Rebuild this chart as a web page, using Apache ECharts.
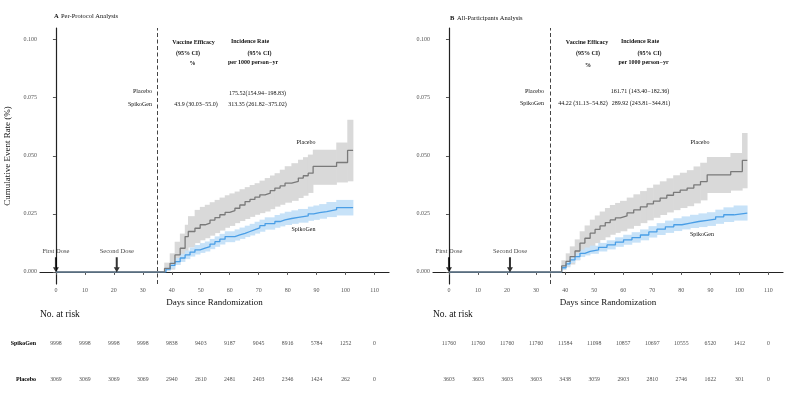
<!DOCTYPE html>
<html>
<head>
<meta charset="utf-8">
<script src="https://cdn.jsdelivr.net/npm/echarts@6/dist/echarts.min.js"></script>
<style>
html,body{margin:0;padding:0;background:#fff;}
#chart{width:787px;height:408px;}
</style>
</head>
<body>
<div id="chart"></div>
<script>
// ---------- Data ----------
const xTicks = [0,10,20,30,40,50,60,70,80,90,100,110];
const yTicks = [0,0.025,0.05,0.075,0.1];

// Panel A (Per-Protocol)
const aPlaceboDays = [0,36,37.5,39.4,41.1,42.9,44.6,45.7,48,49.8,51.5,53.2,54.9,56.6,58.4,60,61.8,63.5,65.3,67,68.7,70.4,72.2,74,75.6,77.4,79.1,81.4,83.7,85.4,87.1,88.8,96.9,100.7,102.6];
const aPlaceboRate = [0,0,0.0015,0.0037,0.0073,0.0102,0.0152,0.0174,0.0188,0.0203,0.021,0.0223,0.0234,0.0246,0.0256,0.0264,0.0274,0.0288,0.0303,0.0312,0.0322,0.0332,0.0339,0.0350,0.0361,0.0370,0.0382,0.0390,0.0404,0.0414,0.0425,0.0454,0.0471,0.0523,0.0523];
const aPlaceboLo   = [0,0,0.0003,0.001,0.003,0.0055,0.008,0.0105,0.0124,0.0136,0.0145,0.0156,0.0167,0.0178,0.019,0.0198,0.021,0.0219,0.0228,0.0237,0.0246,0.0253,0.026,0.027,0.0281,0.0289,0.0298,0.0306,0.0318,0.0328,0.034,0.0375,0.0385,0.039,0.039];
const aPlaceboHi   = [0,0,0.004,0.008,0.013,0.0165,0.0203,0.024,0.0267,0.028,0.0289,0.0300,0.031,0.032,0.033,0.0338,0.0346,0.0356,0.0365,0.0374,0.0382,0.0393,0.0404,0.0415,0.0425,0.044,0.0455,0.0468,0.0483,0.0494,0.0505,0.0526,0.0557,0.0655,0.0655];

const aSpikoDays = [0,36,38,39.5,41.1,42.9,44.6,46.3,48,49.8,51.5,53.2,54.9,56.6,58.4,61.8,63.5,65.3,67,68.7,70.4,72.2,75.6,77.4,79.1,81.4,83.7,87.1,89,91,93.5,96.9,102.6];
const aSpikoRate = [0,0,0.0012,0.0028,0.0044,0.006,0.0073,0.0085,0.0095,0.0102,0.0109,0.012,0.013,0.0141,0.0152,0.0159,0.0166,0.0174,0.0182,0.019,0.0199,0.0208,0.0217,0.0224,0.023,0.0235,0.0241,0.025,0.0255,0.026,0.0268,0.0277,0.0277];
const aSpikoLo   = [0,0,0.0005,0.0015,0.003,0.0043,0.0055,0.0066,0.0075,0.0082,0.0088,0.0098,0.0108,0.0118,0.0128,0.0135,0.0142,0.015,0.0157,0.0165,0.0173,0.0182,0.019,0.0196,0.0202,0.0207,0.0212,0.022,0.0224,0.0229,0.0236,0.0243,0.0243];
const aSpikoHi   = [0,0,0.002,0.0042,0.006,0.0078,0.0092,0.0105,0.0116,0.0124,0.0131,0.0142,0.0153,0.0164,0.0175,0.0183,0.0191,0.0199,0.0207,0.0216,0.0225,0.0235,0.0245,0.0252,0.0259,0.0265,0.0271,0.0281,0.0286,0.0292,0.0301,0.031,0.031];

// Panel B (All-Participants)
const bPlaceboDays = [0,36.5,38.8,40.3,41.7,43.4,45.1,46.8,48.6,50.3,52,53.8,55.5,57.3,59,61.3,63.6,65.9,68.2,70.4,72.7,75,77.3,79.6,82,84.3,86.6,88.9,97,101,102.7];
const bPlaceboRate = [0,0,0.0026,0.0045,0.0066,0.009,0.0124,0.0145,0.0167,0.0183,0.0198,0.0212,0.0224,0.0233,0.0241,0.0254,0.0267,0.028,0.0293,0.0305,0.0318,0.033,0.0342,0.0352,0.0361,0.0375,0.0389,0.0418,0.0432,0.048,0.048];
const bPlaceboLo   = [0,0,0.0008,0.002,0.0032,0.005,0.0075,0.0093,0.011,0.0124,0.0137,0.0149,0.016,0.0168,0.0175,0.0186,0.0198,0.021,0.0222,0.0233,0.0245,0.0256,0.0266,0.0275,0.0283,0.0295,0.0308,0.034,0.035,0.036,0.036];
const bPlaceboHi   = [0,0,0.005,0.008,0.011,0.014,0.0175,0.02,0.0225,0.0243,0.026,0.0275,0.0288,0.0297,0.0306,0.032,0.0334,0.0348,0.0362,0.0376,0.039,0.0403,0.0416,0.0427,0.0438,0.0454,0.047,0.0495,0.0512,0.0598,0.0598];

const bSpikoDays = [0,36.5,38.8,40.3,41.7,43.4,45.1,46.8,48.6,51.5,54.4,57.3,60.1,63,65.9,68.8,71.6,74.5,77.4,80.2,83.1,86,88.9,91.8,94.6,98.1,102.7];
const bSpikoRate = [0,0,0.0018,0.0035,0.0052,0.0066,0.008,0.0088,0.0095,0.0106,0.0116,0.0128,0.0138,0.0148,0.0159,0.0172,0.0184,0.0194,0.0203,0.021,0.0217,0.0222,0.0227,0.0237,0.0246,0.0253,0.0253];
const bSpikoLo   = [0,0,0.001,0.0024,0.0039,0.0051,0.0064,0.0071,0.0078,0.0088,0.0097,0.0108,0.0117,0.0126,0.0136,0.0148,0.0159,0.0168,0.0176,0.0183,0.0189,0.0193,0.0198,0.0207,0.0215,0.0221,0.0221];
const bSpikoHi   = [0,0,0.0028,0.0047,0.0066,0.0081,0.0096,0.0105,0.0113,0.0125,0.0136,0.0149,0.016,0.0171,0.0183,0.0197,0.021,0.0221,0.0231,0.0239,0.0246,0.0252,0.0257,0.0268,0.0278,0.0286,0.0286];

const doseDays = [0,21];
const doseNames = ['First Dose','Second Dose'];
const secondDoseCut = 35;

const riskDays = [0,10,20,30,40,50,60,70,80,90,100,110];
const riskRows = ['SpikoGen','Placebo'];
const aRiskSpiko = [9998,9998,9998,9998,9838,9403,9187,9045,8916,5784,1252,0];
const aRiskPlacebo = [3069,3069,3069,3069,2940,2610,2481,2403,2346,1424,262,0];
const bRiskSpiko = [11760,11760,11760,11760,11584,11098,10857,10697,10555,6520,1412,0];
const bRiskPlacebo = [3603,3603,3603,3603,3438,3059,2903,2810,2746,1622,301,0];

// ---------- Styles ----------
const FF = "'Liberation Serif','Times New Roman',serif";
const GRAY_LINE = '#7a7a7a', GRAY_BAND = '#d9d9d9';
const BLUE_LINE = '#4a9ee6', BLUE_BAND = '#c7e2f8';

const chart = echarts.init(document.getElementById('chart'), null, {renderer:'canvas'});

function pairs(xs, ys){ return xs.map((x,i)=>[x, ys[i]]); }

function mainX(idx){
  return {
    type:'value', gridIndex:idx, min:-5.5, max:115,
    name:'Days since Randomization', nameLocation:'middle', nameGap:11,
    nameTextStyle:{fontFamily:FF, fontSize:9, color:'#111'},
    axisLine:{show:true, lineStyle:{color:'#222', width:1.2}},
    axisTick:{show:true, length:3, lineStyle:{color:'#555'}, customValues:xTicks},
    axisLabel:{fontFamily:FF, fontSize:6, color:'#555', margin:3, customValues:xTicks},
    splitLine:{show:false}
  };
}
function mainY(idx, withName){
  return {
    type:'value', gridIndex:idx, min:-0.0052, max:0.105,
    name: withName ? 'Cumulative Event Rate (%)' : '', nameLocation:'middle', nameGap:28,
    nameTextStyle:{fontFamily:FF, fontSize:9, color:'#111'},
    axisLine:{show:true, lineStyle:{color:'#222', width:1.2}},
    axisTick:{show:true, length:3, lineStyle:{color:'#555'}, customValues:yTicks},
    axisLabel:{fontFamily:FF, fontSize:6, color:'#555', margin:3, customValues:yTicks, formatter:v=>v.toFixed(3)},
    splitLine:{show:false}
  };
}
function riskX(idx){
  return {type:'value', gridIndex:idx, min:-5.5, max:115, show:false};
}
function riskY(idx, showLabels){
  return {type:'category', gridIndex:idx, data:riskRows, inverse:true,
    axisLine:{show:false}, axisTick:{show:false}, splitLine:{show:false},
    axisLabel:{show:showLabels, fontFamily:FF, fontSize:6, fontWeight:'bold', color:'#000', margin:4}};
}

// Step-shaped confidence band: each item = [startDay, endDay, lo, hi]
function bandSeries(ax, days, lo, hi, color){
  const data = [];
  for (let i = 0; i < days.length - 1; i++) {
    if (hi[i] > lo[i]) data.push([days[i], days[i+1], lo[i], hi[i]]);
  }
  return {
    type:'custom', xAxisIndex:ax, yAxisIndex:ax, silent:true, z:1,
    data:data,
    encode:{x:[0,1], y:[2,3]},
    renderItem:function(params, api){
      const p1 = api.coord([api.value(0), api.value(3)]);
      const p2 = api.coord([api.value(1), api.value(2)]);
      return {type:'rect', shape:{x:p1[0]-0.3, y:p1[1], width:p2[0]-p1[0]+0.6, height:p2[1]-p1[1]},
        style:{fill:color}};
    }
  };
}
function lineSeries(ax, days, rate, color, z, extra){
  return Object.assign({type:'line', xAxisIndex:ax, yAxisIndex:ax, step:'end', symbol:'none', silent:true,
    lineStyle:{color:color, width:1.3}, data:pairs(days, rate), z:z}, extra||{});
}
function cutLine(){
  return {markLine:{silent:true, symbol:['none','none'], label:{show:false},
    lineStyle:{type:[4,2.5], color:'#444', width:1}, data:[{xAxis:secondDoseCut}]}};
}
const arrowPath = 'path://M2,0 L4,0 L4,10 L6,10 L3,15 L0,10 L2,10 Z';
function doseSeries(ax){
  return {type:'scatter', xAxisIndex:ax, yAxisIndex:ax, symbol:arrowPath, symbolSize:[6,15], silent:true,
    itemStyle:{color:'#000'}, z:8,
    data: doseDays.map((d,i)=>({value:[d, 0.0031], name:doseNames[i]})),
    label:{show:true, position:'top', distance:2, formatter:p=>p.name, fontFamily:FF, fontSize:6.5, color:'#111'}};
}
function riskSeries(ax, spiko, placebo){
  const data = [];
  riskDays.forEach((d,i)=>{ data.push([d, riskRows[0], spiko[i]]); data.push([d, riskRows[1], placebo[i]]); });
  return {type:'scatter', xAxisIndex:ax, yAxisIndex:ax, symbolSize:0, silent:true, data:data,
    label:{show:true, position:'inside', formatter:p=>String(p.value[2]), fontFamily:FF, fontSize:5.8, color:'#222'}};
}

function txt(x, y, text, opt){
  opt = opt || {};
  return {type:'text', x:x, y:y, silent:true, z:100, style:{
    text:text, fill:'#111', fontFamily:FF, fontSize:opt.size||6, fontWeight:opt.bold?'bold':'normal',
    align:opt.align||'center', verticalAlign:'middle', textAlign:opt.align||'center', textVerticalAlign:'middle'
  }};
}

const graphics = [
  // Panel A
  txt(54,16,'A',{align:'left',bold:true,size:6.5}),
  txt(61,16,'Per-Protocol Analysis',{align:'left',size:6.5}),
  txt(193.5,42,'Vaccine Efficacy',{bold:true}),
  txt(188,53,'(95% CI)',{bold:true}),
  txt(192.5,63,'%',{bold:true}),
  txt(250,41,'Incidence Rate',{bold:true}),
  txt(259.5,53,'(95% CI)',{bold:true}),
  txt(253,62,'per 1000 person\u2212yr',{bold:true}),
  txt(152,91,'Placebo',{align:'right'}),
  txt(152,104,'SpikoGen',{align:'right'}),
  txt(257.5,93,'175.52(154.94\u2212198.83)'),
  txt(196,104,'43.9 (30.03\u221255.0)'),
  txt(257.5,104,'313.35 (261.82\u2212375.02)'),
  txt(306,142.5,'Placebo'),
  txt(303.5,229,'SpikoGen'),
  txt(40,314,'No. at risk',{align:'left',size:9.5}),
  // Panel B
  txt(450,18,'B',{align:'left',bold:true,size:6.5}),
  txt(457,18,'All-Participants Analysis',{align:'left',size:6.5}),
  txt(587,42,'Vaccine Efficacy',{bold:true}),
  txt(588,53,'(95% CI)',{bold:true}),
  txt(588,65,'%',{bold:true}),
  txt(640,41,'Incidence Rate',{bold:true}),
  txt(649.5,53,'(95% CI)',{bold:true}),
  txt(643.5,62,'per 1000 person\u2212yr',{bold:true}),
  txt(544,91,'Placebo',{align:'right'}),
  txt(544,103.5,'SpikoGen',{align:'right'}),
  txt(640,91,'161.71 (143.40\u2212182.36)'),
  txt(583,103.5,'44.22 (31.13\u221254.82)'),
  txt(641,103.5,'289.92 (243.81\u2212344.81)'),
  txt(700,142.5,'Placebo'),
  txt(702,234.5,'SpikoGen'),
  txt(433,314,'No. at risk',{align:'left',size:9.5})
];

const option = {
  backgroundColor:'#fff',
  animation:false,
  grid:[
    {left:40, top:28, width:349, height:256},
    {left:433, top:28, width:350, height:256},
    {left:40, top:325, width:349, height:72},
    {left:433, top:325, width:350, height:72}
  ],
  xAxis:[mainX(0), mainX(1), riskX(2), riskX(3)],
  yAxis:[mainY(0,true), mainY(1,false), riskY(2,true), riskY(3,false)],
  series:[
    bandSeries(0, aPlaceboDays, aPlaceboLo, aPlaceboHi, GRAY_BAND),
    bandSeries(0, aSpikoDays, aSpikoLo, aSpikoHi, BLUE_BAND),
    lineSeries(0, aSpikoDays, aSpikoRate, BLUE_LINE, 3),
    lineSeries(0, aPlaceboDays, aPlaceboRate, GRAY_LINE, 6, cutLine()),
    doseSeries(0),
    bandSeries(1, bPlaceboDays, bPlaceboLo, bPlaceboHi, GRAY_BAND),
    bandSeries(1, bSpikoDays, bSpikoLo, bSpikoHi, BLUE_BAND),
    lineSeries(1, bSpikoDays, bSpikoRate, BLUE_LINE, 3),
    lineSeries(1, bPlaceboDays, bPlaceboRate, GRAY_LINE, 6, cutLine()),
    doseSeries(1),
    riskSeries(2, aRiskSpiko, aRiskPlacebo),
    riskSeries(3, bRiskSpiko, bRiskPlacebo)
  ],
  graphic:graphics
};
chart.setOption(option);
</script>
</body>
</html>
